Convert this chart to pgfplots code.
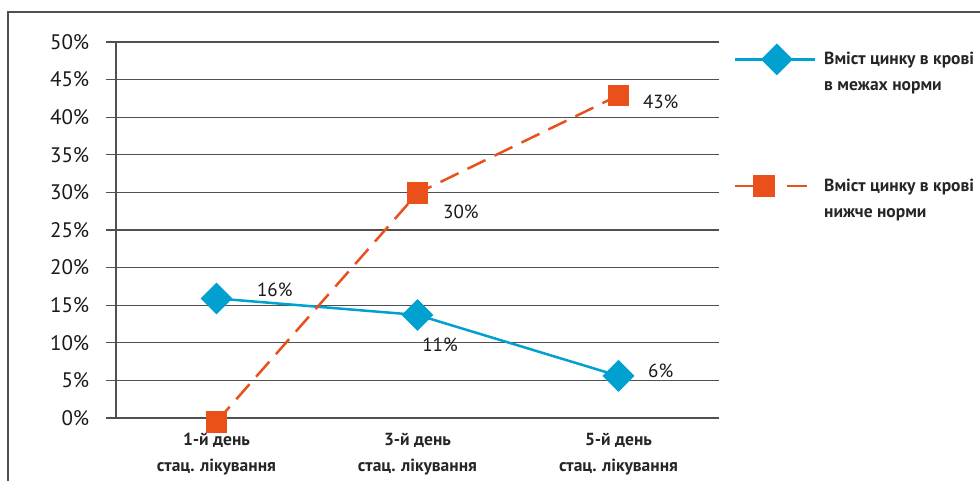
\documentclass[border=0pt]{standalone}
\usepackage{pgfplots}
\pgfplotsset{compat=1.18}
\usepackage{fontspec}
\setmainfont{PT Sans}
\definecolor{cblue}{HTML}{00A0D1}
\definecolor{corange}{HTML}{E9501A}
\definecolor{cgrid}{HTML}{505050}
\begin{document}
\begin{tikzpicture}
\useasboundingbox (0,0) rectangle (980pt,481pt);
\draw[cgrid, line width=1.3pt] (8pt,0pt) -- (8pt,469pt) -- (981pt,469pt);
\begin{axis}[
  at={(116pt,63pt)}, anchor=south west,
  scale only axis, width=603pt, height=376pt,
  xmin=-0.5, xmax=2.5, ymin=0, ymax=50,
  clip=false,
  axis x line*=bottom, axis y line*=left,
  axis line style={-, cgrid, line width=1.3pt},
  ytick={0,5,...,50},
  yticklabel={\pgfmathprintnumber{\tick}\%},
  /pgf/number format/assume math mode=true,
  yticklabel style={font=\fontsize{21}{24}\selectfont, text=black!90, xshift=-19pt},
  ymajorgrids, grid style={cgrid, line width=1.3pt},
  ytick style={cgrid, line width=1.3pt, /pgfplots/major tick length=10pt},
  tick align=outside,
  xtick={0,1,2},
  xticklabels={{1-й день\\стац. лікування},{3-й день\\стац. лікування},{5-й день\\стац. лікування}},
  xticklabel style={align=center, font=\fontsize{17.5}{26}\selectfont\bfseries, text=black!85, yshift=-7pt},
  xtick style={draw=none},
  extra x ticks={-0.5,0.5,1.5,2.5},
  extra x tick labels={},
  extra x tick style={grid=none, tick style={cgrid, line width=1.3pt, draw=cgrid}, /pgfplots/major tick length=15pt},
  legend style={draw=none, at={(1.024,0.992)}, anchor=north west, inner sep=0pt,
     font=\fontsize{17.5}{26}\selectfont\bfseries, text=black!85, row sep=103pt,
     nodes={inner sep=2pt}, cells={anchor=base west}},
  legend image code/.code={%
    \draw[mark repeat=2,mark phase=2,#1]
      plot coordinates {(0pt,5.5pt) (42pt,5.5pt) (80pt,5.5pt)};%
  },
]
\addplot[cblue, line width=2.5pt, mark=square*, mark size=10pt, mark options={rotate=45, solid, fill=cblue, draw=cblue}]
  coordinates {(0,15.9) (1,13.7) (2,5.6)};
\addlegendentry{\hspace{6pt}\vtop{\hbox{Вміст цинку в крові}\hbox{в межах норми}}}
\addplot[corange, line width=2.5pt, dash pattern=on 20pt off 10pt, mark=square*, mark size=9.5pt, mark options={solid, fill=corange, draw=corange},
  legend image code/.code={%
    \draw[corange, line width=2.5pt] (0pt,5.5pt) -- (22pt,5.5pt);
    \draw[corange, line width=2.5pt] (52pt,5.5pt) -- (80pt,5.5pt);
    \draw[corange, mark=square*, mark size=9.5pt, mark options={solid, fill=corange, draw=corange}] plot coordinates {(29pt,5.5pt)};%
  }]
  coordinates {(0,-0.5) (1,29.9) (2,42.9)};
\addlegendentry{\hspace{6pt}\vtop{\hbox{Вміст цинку в крові}\hbox{нижче норми}}}
\node[font=\fontsize{19}{22}\selectfont, text=black!90] at (axis cs:0.29,17.0) {16\%};
\node[font=\fontsize{19}{22}\selectfont, text=black!90] at (axis cs:1.112,9.7) {11\%};
\node[font=\fontsize{19}{22}\selectfont, text=black!90] at (axis cs:2.21,6.25) {6\%};
\node[font=\fontsize{19}{22}\selectfont, text=black!90] at (axis cs:1.216,27.4) {30\%};
\node[font=\fontsize{19}{22}\selectfont, text=black!90] at (axis cs:2.21,42.0) {43\%};
\end{axis}
\end{tikzpicture}
\end{document}
